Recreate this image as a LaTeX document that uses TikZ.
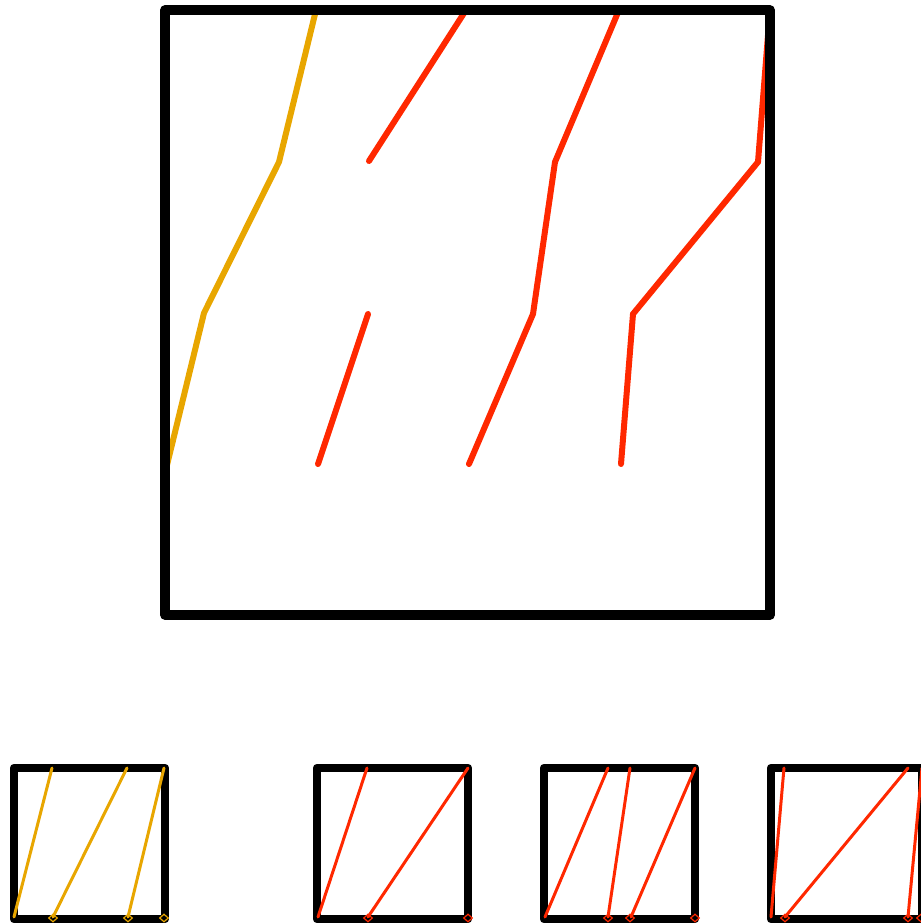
\documentclass[tikz,border=0pt]{standalone}
\usetikzlibrary{shapes.geometric}
\definecolor{cOrange}{RGB}{232,166,0}
\definecolor{cRed}{RGB}{255,40,0}
\tikzset{
  bigbox/.style={draw=black,line width=9.5pt,line join=round},
  smallbox/.style={draw=black,line width=8.5pt,line join=round},
  bigcurve/.style={line width=6pt,line cap=round,line join=miter},
  smallcurve/.style={line width=3pt,line cap=round},
  mark diamond/.style={diamond,draw=#1,line width=1.2pt,minimum width=9pt,minimum height=8pt,inner sep=0pt}
}
\begin{document}
\begin{tikzpicture}[x=1pt,y=-1pt]
\useasboundingbox (0,0) rectangle (921,924);
% ---------- big box ----------
\draw[bigcurve,cOrange] (316,10) -- (279,162) -- (204,313) -- (167,465);
\draw[bigcurve,cRed] (466,10) -- (369,161);
\draw[bigcurve,cRed] (368,314) -- (318,464);
\draw[bigcurve,cRed] (619,10) -- (555,162) -- (533,314) -- (469,464);
\draw[bigcurve,cRed] (770,10) -- (758,162) -- (633,314) -- (621,464);
\draw[bigbox] (165,10) rectangle (770,615);
% ---------- small box 1 ----------
\draw[smallbox] (14,768) rectangle (165,919);
\draw[smallcurve,cOrange] (52,768) -- (14,917);
\draw[smallcurve,cOrange] (127,768) -- (53,917);
\draw[smallcurve,cOrange] (164,768) -- (128,917);
\node[mark diamond=cOrange] (d11) at (53,918) {};
\node[mark diamond=cOrange] (d12) at (128,918) {};
\node[mark diamond=cOrange] (d13) at (164,918) {};
% ---------- small box 2 ----------
\draw[smallbox] (317,768) rectangle (468,919);
\draw[smallcurve,cRed] (367,768) -- (318,917);
\draw[smallcurve,cRed] (468,768) -- (368,917);
\node[mark diamond=cRed] (d21) at (368,918) {};
\node[mark diamond=cRed] (d22) at (468,918) {};
% ---------- small box 3 ----------
\draw[smallbox] (544,768) rectangle (695,919);
\draw[smallcurve,cRed] (608,768) -- (545,917);
\draw[smallcurve,cRed] (630,768) -- (608,917);
\draw[smallcurve,cRed] (695,768) -- (631,917);
\node[mark diamond=cRed] (d31) at (608,918) {};
\node[mark diamond=cRed] (d32) at (630,918) {};
\node[mark diamond=cRed] (d33) at (695,918) {};
% ---------- small box 4 ----------
\draw[smallbox] (771,768) rectangle (922,919);
\draw[smallcurve,cRed] (784,768) -- (771,917);
\draw[smallcurve,cRed] (908,768) -- (785,917);
\draw[smallcurve,cRed] (922,768) -- (908,917);
\node[mark diamond=cRed] (d41) at (785,918) {};
\node[mark diamond=cRed] (d42) at (908,918) {};
\node[mark diamond=cRed] (d43) at (921,918) {};
\end{tikzpicture}
\end{document}
